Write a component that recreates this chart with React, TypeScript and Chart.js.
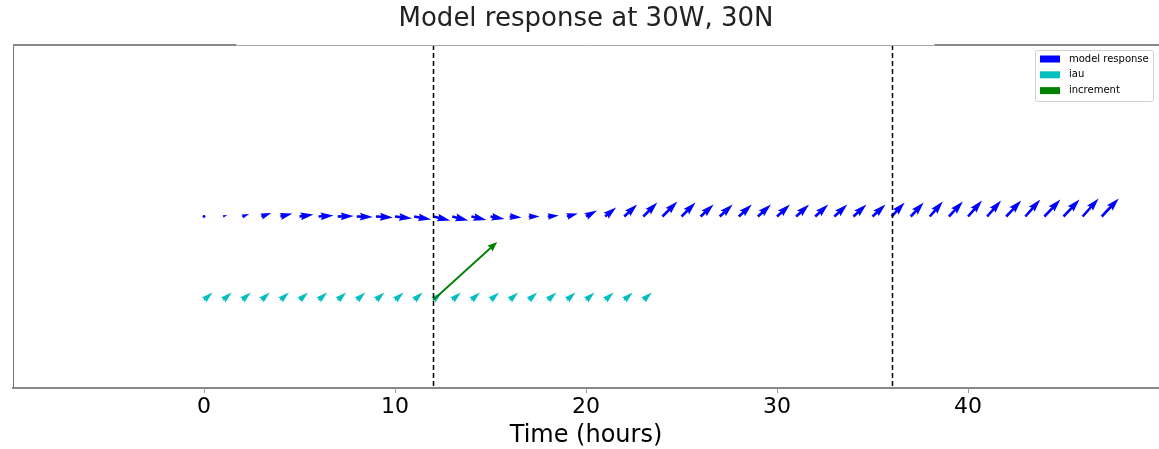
import React, { useEffect, useRef } from 'react';
import { Chart, registerables } from 'chart.js';

Chart.register(...registerables);

// ---------- data ----------
const TITLE = 'Model response at 30W, 30N';
const X_LABEL = 'Time (hours)';
const X_TICKS = [0, 10, 20, 30, 40];
const X_MIN = -10;
const X_MAX = 50;
const Y_MIN = -1.5;
const Y_MAX = 1.5;
const ASSIM_TIMES = [12, 36];

const MODEL_HOURS = [
  0, 1, 2, 3, 4, 5, 6, 7, 8, 9, 10, 11, 12, 13, 14, 15, 16, 17, 18, 19, 20, 21, 22, 23,
  24, 25, 26, 27, 28, 29, 30, 31, 32, 33, 34, 35, 36, 37, 38, 39, 40, 41, 42, 43, 44, 45, 46, 47,
];
const MODEL_LEVEL = 0;
const MODEL_U = [
  0.05, 0.4, 0.7, 1.0, 1.2, 1.4, 1.5, 1.6, 1.6, 1.7, 1.7, 1.7, 1.7, 1.6, 1.5, 1.4, 1.2, 1.1, 1.1, 1.1, 1.1, 1.1, 1.3, 1.4,
  1.5, 1.4, 1.3, 1.3, 1.3, 1.3, 1.3, 1.3, 1.3, 1.3, 1.3, 1.3, 1.3, 1.3, 1.3, 1.4, 1.4, 1.4, 1.5, 1.5, 1.6, 1.6, 1.6, 1.7,
];
const MODEL_V = [
  0.02, 0.15, 0.25, 0.35, 0.3, 0.2, 0.1, 0.05, -0.05, -0.1, -0.2, -0.3, -0.4, -0.4, -0.35, -0.25, -0.1, 0.0, 0.1, 0.3, 0.6, 0.9, 1.2, 1.4,
  1.5, 1.4, 1.2, 1.2, 1.2, 1.2, 1.2, 1.2, 1.2, 1.2, 1.2, 1.2, 1.4, 1.4, 1.5, 1.5, 1.6, 1.6, 1.6, 1.7, 1.7, 1.7, 1.8, 1.8,
];

const IAU_HOURS = [0, 1, 2, 3, 4, 5, 6, 7, 8, 9, 10, 11, 12, 13, 14, 15, 16, 17, 18, 19, 20, 21, 22, 23];
const IAU_LEVEL = -0.73;
const IAU_U = [0.85, 0.85, 0.85, 0.85, 0.85, 0.85, 0.85, 0.85, 0.85, 0.85, 0.85, 0.85, 0.85, 0.85, 0.85, 0.85, 0.85, 0.85, 0.85, 0.85, 0.85, 0.85, 0.85, 0.85];
const IAU_V = [0.75, 0.75, 0.75, 0.75, 0.75, 0.75, 0.75, 0.75, 0.75, 0.75, 0.75, 0.75, 0.75, 0.75, 0.75, 0.75, 0.75, 0.75, 0.75, 0.75, 0.75, 0.75, 0.75, 0.75];

const INC_HOURS = [12];
const INC_LEVEL = -0.73;
const INC_U = [6.4];
const INC_V = [5.8];

const SERIES_NAMES = ['model response', 'iau', 'increment'];
const SERIES_COLORS = ['#0000ff', '#00bfbf', '#008000'];

// quiver scale: vector units across the plot width
const QUIVER_SCALE = 114.6;

type ArrowStyle = { w: number; hw: number; hl: number; hal: number };
const MODEL_STYLE: ArrowStyle = { w: 2.6, hw: 3, hl: 5, hal: 4.5 };
const INC_STYLE: ArrowStyle = { w: 1.8, hw: 4.2, hl: 5.5, hal: 5 };

function drawArrow(ctx: CanvasRenderingContext2D, x0: number, y0: number, dx: number, dy: number, st: ArrowStyle) {
  const L = Math.hypot(dx, dy);
  const w = st.w;
  if (L < w) {
    ctx.beginPath();
    ctx.arc(x0, y0, w * 0.55, 0, Math.PI * 2);
    ctx.fill();
    return;
  }
  const ux = dx / L, uy = dy / L;
  const nx = -uy, ny = ux;
  const HL = st.hl * w, HH = (st.hw * w) / 2, HAL = st.hal * w, SH = w / 2;
  let len = L, s = 1;
  if (L < HL) { s = L / HL; len = HL; }
  const pts: [number, number][] = [
    [0, -SH], [len - HAL, -SH], [len - HL, -HH], [len, 0], [len - HL, HH], [len - HAL, SH], [0, SH],
  ];
  ctx.beginPath();
  pts.forEach(([a, b], i) => {
    const px = x0 + (a * ux + b * nx) * s;
    const py = y0 + (a * uy + b * ny) * s;
    if (i === 0) ctx.moveTo(px, py); else ctx.lineTo(px, py);
  });
  ctx.closePath();
  ctx.fill();
}

const quiverPlugin = {
  id: 'quiver',
  afterDatasetsDraw(chart: any) {
    const ctx: CanvasRenderingContext2D = chart.ctx;
    const area = chart.chartArea;
    const xs = chart.scales.x;
    const pxPerUnit = area.width / QUIVER_SCALE;
    ctx.save();
    ctx.beginPath();
    ctx.rect(area.left, area.top, area.width, area.height);
    ctx.clip();

    const drawSet = (idx: number) => {
      const ds = chart.data.datasets[idx];
      const meta = chart.getDatasetMeta(idx);
      ctx.fillStyle = ds.borderColor;
      meta.data.forEach((el: any, i: number) => {
        drawArrow(ctx, el.x, el.y, ds.quiverU[i] * pxPerUnit, -ds.quiverV[i] * pxPerUnit, ds.quiverStyle);
      });
    };
    drawSet(0);
    drawSet(1);

    // assimilation-time dashed lines
    ctx.strokeStyle = '#000';
    ctx.lineWidth = 1.5;
    ctx.setLineDash([5, 3]);
    ASSIM_TIMES.forEach((t) => {
      const x = Math.round(xs.getPixelForValue(t)) + 0.5;
      ctx.beginPath();
      ctx.moveTo(x, area.top);
      ctx.lineTo(x, area.bottom);
      ctx.stroke();
    });
    ctx.setLineDash([]);

    drawSet(2);
    ctx.restore();
  },
  afterDraw(chart: any) {
    const ctx: CanvasRenderingContext2D = chart.ctx;
    const a = chart.chartArea;
    ctx.save();
    // frame
    ctx.strokeStyle = '#777';
    ctx.lineWidth = 1;
    ctx.beginPath();
    ctx.moveTo(a.left + 0.5, a.top);
    ctx.lineTo(a.left + 0.5, a.bottom);
    ctx.stroke();
    const s1 = a.left + a.width * 0.195;
    const s2 = a.left + a.width * 0.804;
    ctx.strokeStyle = '#888';
    ctx.lineWidth = 2;
    ctx.beginPath();
    ctx.moveTo(a.left, a.top);
    ctx.lineTo(s1, a.top);
    ctx.moveTo(s2, a.top);
    ctx.lineTo(a.right, a.top);
    ctx.stroke();
    ctx.strokeStyle = '#aaa';
    ctx.lineWidth = 1;
    ctx.beginPath();
    ctx.moveTo(s1, a.top + 0.5);
    ctx.lineTo(s2, a.top + 0.5);
    ctx.stroke();

    // legend
    const bw = 118, bh = 51;
    const bx = a.right - 6 - bw;
    const by = a.top + 5;
    ctx.fillStyle = 'rgba(255,255,255,0.8)';
    ctx.strokeStyle = '#d0d0d0';
    ctx.lineWidth = 1;
    ctx.beginPath();
    (ctx as any).roundRect ? (ctx as any).roundRect(bx + 0.5, by + 0.5, bw, bh, 2) : ctx.rect(bx + 0.5, by + 0.5, bw, bh);
    ctx.fill();
    ctx.stroke();
    ctx.font = '10px "DejaVu Sans"';
    ctx.textBaseline = 'middle';
    ctx.textAlign = 'left';
    SERIES_NAMES.forEach((name, i) => {
      const cy = by + 9 + i * 15.8;
      ctx.fillStyle = SERIES_COLORS[i];
      ctx.fillRect(bx + 5, cy - 3.5, 20, 7);
      ctx.fillStyle = '#000';
      ctx.fillText(name, bx + 34, cy);
    });
    ctx.restore();
  },
};

export default function App() {
  const ref = useRef<HTMLCanvasElement | null>(null);
  useEffect(() => {
    document.body.style.margin = '0';
    const canvas = ref.current!;
    const mk = (hours: number[], level: number) => hours.map((h) => ({ x: h, y: level }));
    const chart = new Chart(canvas, {
      type: 'scatter',
      data: {
        datasets: [
          { label: SERIES_NAMES[0], data: mk(MODEL_HOURS, MODEL_LEVEL), borderColor: SERIES_COLORS[0], backgroundColor: SERIES_COLORS[0], pointRadius: 0, quiverU: MODEL_U, quiverV: MODEL_V, quiverStyle: MODEL_STYLE } as any,
          { label: SERIES_NAMES[1], data: mk(IAU_HOURS, IAU_LEVEL), borderColor: SERIES_COLORS[1], backgroundColor: SERIES_COLORS[1], pointRadius: 0, quiverU: IAU_U, quiverV: IAU_V, quiverStyle: MODEL_STYLE } as any,
          { label: SERIES_NAMES[2], data: mk(INC_HOURS, INC_LEVEL), borderColor: SERIES_COLORS[2], backgroundColor: SERIES_COLORS[2], pointRadius: 0, quiverU: INC_U, quiverV: INC_V, quiverStyle: INC_STYLE } as any,
        ],
      },
      options: {
        animation: false,
        responsive: false,
        devicePixelRatio: 1,
        layout: { padding: { left: 13, right: 0, top: 0, bottom: 0 } },
        plugins: {
          legend: { display: false },
          tooltip: { enabled: false },
          title: {
            display: true,
            text: TITLE,
            color: '#222',
            font: { family: '"DejaVu Sans"', size: 26, weight: 'normal' },
            padding: { top: 4, bottom: 9.8 },
          },
        },
        scales: {
          x: {
            type: 'linear',
            min: X_MIN,
            max: X_MAX,
            afterBuildTicks: (scale: any) => {
              scale.ticks = X_TICKS.map((v) => ({ value: v }));
            },
            afterFit: (scale: any) => {
              scale.height = 61;
            },
            ticks: {
              color: '#000',
              font: { family: '"DejaVu Sans"', size: 22 },
              padding: 1,
              maxRotation: 0,
              callback: (v: any) => String(v),
            },
            grid: {
              display: true,
              drawOnChartArea: false,
              drawTicks: true,
              tickLength: 5,
              tickColor: '#999',
              tickWidth: 1,
            },
            border: { display: true, color: '#888', width: 2 },
            title: {
              display: true,
              text: X_LABEL,
              color: '#000',
              font: { family: '"DejaVu Sans"', size: 24, lineHeight: 1.1 },
              padding: { top: 0, bottom: 0 },
            },
          },
          y: {
            type: 'linear',
            min: Y_MIN,
            max: Y_MAX,
            display: false,
          },
        },
      },
      plugins: [quiverPlugin],
    } as any);
    return () => chart.destroy();
  }, []);
  return (
    <div style={{ width: 1159, height: 449 }}>
      <canvas ref={ref} width={1159} height={449} style={{ display: 'block' }} />
    </div>
  );
}
